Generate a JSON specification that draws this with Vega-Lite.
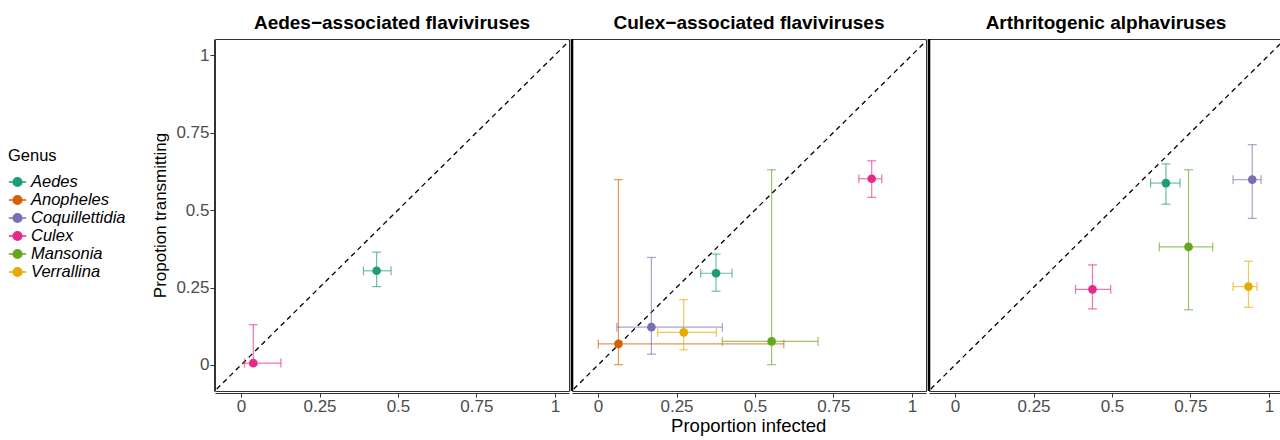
{
  "$schema": "https://vega.github.io/schema/vega-lite/v6.json",
  "padding": {"left": 8, "top": 14, "right": 3, "bottom": 0},
  "title": {"text": "Proportion infected", "orient": "bottom", "anchor": "middle", "frame": "bounds", "dx": 103, "fontSize": 18.5, "fontWeight": "normal", "color": "black", "offset": 3},
  "config": {
    "font": "Liberation Sans",
    "view": {"stroke": "#333333", "strokeWidth": 1},
    "facet": {"spacing": 0},
    "axis": {"grid": false, "domainColor": "#333333", "tickColor": "#333333", "labelColor": "#4d4d4d", "labelFontSize": 17, "titleFontSize": 17, "titleFontWeight": "normal", "titleColor": "black", "tickSize": 4, "labelPadding": 1},
    "legend": {"layout": {"left": {"anchor": "middle"}}}
  },
  "data": {"values": [
    {"panel": "Aedes−associated flaviviruses", "genus": "Aedes", "x": 0.432, "xmin": 0.39, "xmax": 0.478, "y": 0.304, "ymin": 0.253, "ymax": 0.364},
    {"panel": "Aedes−associated flaviviruses", "genus": "Culex", "x": 0.039, "xmin": 0.011, "xmax": 0.127, "y": 0.006, "ymin": 0.0, "ymax": 0.13},
    {"panel": "Culex−associated flaviviruses", "genus": "Aedes", "x": 0.376, "xmin": 0.327, "xmax": 0.427, "y": 0.296, "ymin": 0.238, "ymax": 0.358},
    {"panel": "Culex−associated flaviviruses", "genus": "Anopheles", "x": 0.065, "xmin": 0.001, "xmax": 0.592, "y": 0.068, "ymin": 0.001, "ymax": 0.598},
    {"panel": "Culex−associated flaviviruses", "genus": "Coquillettidia", "x": 0.17, "xmin": 0.06, "xmax": 0.396, "y": 0.122, "ymin": 0.035, "ymax": 0.347},
    {"panel": "Culex−associated flaviviruses", "genus": "Culex", "x": 0.872, "xmin": 0.831, "xmax": 0.904, "y": 0.601, "ymin": 0.541, "ymax": 0.659},
    {"panel": "Culex−associated flaviviruses", "genus": "Mansonia", "x": 0.553, "xmin": 0.396, "xmax": 0.701, "y": 0.076, "ymin": 0.001, "ymax": 0.63},
    {"panel": "Culex−associated flaviviruses", "genus": "Verrallina", "x": 0.273, "xmin": 0.19, "xmax": 0.377, "y": 0.105, "ymin": 0.049, "ymax": 0.211},
    {"panel": "Arthritogenic alphaviruses", "genus": "Aedes", "x": 0.672, "xmin": 0.623, "xmax": 0.717, "y": 0.587, "ymin": 0.519, "ymax": 0.649},
    {"panel": "Arthritogenic alphaviruses", "genus": "Coquillettidia", "x": 0.947, "xmin": 0.886, "xmax": 0.975, "y": 0.598, "ymin": 0.473, "ymax": 0.711},
    {"panel": "Arthritogenic alphaviruses", "genus": "Culex", "x": 0.438, "xmin": 0.384, "xmax": 0.496, "y": 0.244, "ymin": 0.181, "ymax": 0.323},
    {"panel": "Arthritogenic alphaviruses", "genus": "Mansonia", "x": 0.744, "xmin": 0.651, "xmax": 0.821, "y": 0.381, "ymin": 0.178, "ymax": 0.63},
    {"panel": "Arthritogenic alphaviruses", "genus": "Verrallina", "x": 0.935, "xmin": 0.886, "xmax": 0.962, "y": 0.253, "ymin": 0.186, "ymax": 0.335}
  ]},
  "facet": {
    "column": {
      "field": "panel", "type": "nominal",
      "sort": ["Aedes−associated flaviviruses", "Culex−associated flaviviruses", "Arthritogenic alphaviruses"],
      "header": {"title": null, "labelFontSize": 19, "labelFontWeight": "bold", "labelColor": "black", "labelPadding": 4}
    }
  },
  "spec": {
    "width": 354,
    "height": 352,
    "encoding": {
      "color": {
        "field": "genus", "type": "nominal",
        "scale": {"domain": ["Aedes", "Anopheles", "Coquillettidia", "Culex", "Mansonia", "Verrallina"], "range": ["#1b9e77", "#d95f02", "#7570b3", "#e7298a", "#66a61e", "#e6ab02"]},
        "legend": {"title": "Genus", "orient": "left", "titleFontSize": 16.5, "titleFontWeight": "normal", "titleColor": "black", "titlePadding": 8, "labelFontSize": 16.5, "labelFontStyle": "italic", "labelColor": "black", "symbolType": "M -1 0 H 1 M 0.5 0 A 0.5 0.5 0 1 1 -0.5 0 A 0.5 0.5 0 1 1 0.5 0 Z", "symbolSize": 300, "symbolStrokeWidth": 1.5, "symbolOpacity": 1, "rowPadding": 0, "offset": 25}
      }
    },
    "layer": [
      {
        "transform": [{"aggregate": [{"op": "count", "as": "n"}], "groupby": ["panel"]}],
        "mark": {"type": "rule", "clip": true, "strokeDash": [5, 4], "strokeWidth": 1.3, "color": "black"},
        "encoding": {
          "x": {"datum": -0.2, "type": "quantitative"},
          "y": {"datum": -0.2, "type": "quantitative"},
          "x2": {"datum": 1.2},
          "y2": {"datum": 1.2},
          "color": null
        }
      },
      {
        "mark": {"type": "rule", "strokeWidth": 1.2, "opacity": 0.65},
        "encoding": {"x": {"field": "xmin", "type": "quantitative"}, "x2": {"field": "xmax"}, "y": {"field": "y", "type": "quantitative"}}
      },
      {
        "mark": {"type": "rule", "strokeWidth": 1.2, "opacity": 0.65},
        "encoding": {"y": {"field": "ymin", "type": "quantitative"}, "y2": {"field": "ymax"}, "x": {"field": "x", "type": "quantitative"}}
      },
      {
        "mark": {"type": "tick", "orient": "vertical", "size": 9, "thickness": 1.2, "opacity": 0.65},
        "encoding": {"x": {"field": "xmin", "type": "quantitative"}, "y": {"field": "y", "type": "quantitative"}}
      },
      {
        "mark": {"type": "tick", "orient": "vertical", "size": 9, "thickness": 1.2, "opacity": 0.65},
        "encoding": {"x": {"field": "xmax", "type": "quantitative"}, "y": {"field": "y", "type": "quantitative"}}
      },
      {
        "mark": {"type": "tick", "orient": "horizontal", "size": 9, "thickness": 1.2, "opacity": 0.65},
        "encoding": {"x": {"field": "x", "type": "quantitative"}, "y": {"field": "ymin", "type": "quantitative"}}
      },
      {
        "mark": {"type": "tick", "orient": "horizontal", "size": 9, "thickness": 1.2, "opacity": 0.65},
        "encoding": {"x": {"field": "x", "type": "quantitative"}, "y": {"field": "ymax", "type": "quantitative"}}
      },
      {
        "mark": {"type": "point", "filled": true, "size": 75, "opacity": 1},
        "encoding": {
          "x": {"field": "x", "type": "quantitative", "scale": {"domain": [-0.083, 1.045], "nice": false, "zero": false}, "axis": {"values": [0, 0.25, 0.5, 0.75, 1], "format": ".2~f", "title": null}},
          "y": {"field": "y", "type": "quantitative", "scale": {"domain": [-0.084, 1.052], "nice": false, "zero": false}, "axis": {"values": [0, 0.25, 0.5, 0.75, 1], "format": ".2~f", "title": "Propotion transmitting", "titlePadding": 6}}
        }
      },
      {
        "transform": [{"aggregate": [{"op": "count", "as": "n"}], "groupby": ["panel"]}, {"filter": "datum.panel !== 'Aedes−associated flaviviruses'"}],
        "mark": {"type": "rule", "strokeWidth": 2.6, "color": "black", "clip": false},
        "encoding": {"x": {"datum": -0.083, "type": "quantitative"}, "color": null}
      }
    ]
  }
}
